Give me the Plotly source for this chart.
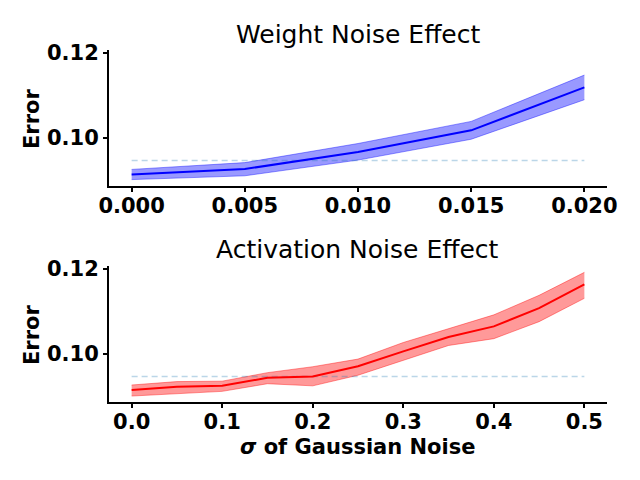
import plotly.graph_objects as go

# weight noise panel
w_sigma = [0.0, 0.005, 0.010, 0.015, 0.020]
w_mean = [0.0913, 0.0926, 0.0966, 0.1017, 0.1118]
w_upper = [0.0925, 0.0941, 0.0986, 0.1038, 0.1147]
w_lower = [0.0901, 0.0910, 0.0947, 0.0996, 0.1089]

# activation noise panel
a_sigma = [0.0, 0.05, 0.10, 0.15, 0.20, 0.25, 0.30, 0.35, 0.40, 0.45, 0.50]
a_mean = [0.0914, 0.0922, 0.0924, 0.0943, 0.0946, 0.0970, 0.1005, 0.1039, 0.1064, 0.1107, 0.1163]
a_upper = [0.0926, 0.0934, 0.0935, 0.0955, 0.0969, 0.0987, 0.1026, 0.1058, 0.1091, 0.1137, 0.1191]
a_lower = [0.0900, 0.0905, 0.0911, 0.0929, 0.0924, 0.0949, 0.0984, 0.1019, 0.1035, 0.1075, 0.1130]

baseline = 0.0946

font_main = 'DejaVu Sans'
y_range = [0.0886, 0.1206]

# page body adds an 8px offset, so the figure is 632x472
W, H = 632, 472

fig = go.Figure()


def add_panel(xs, mean, upper, lower, color, fill, xa, ya):
    fig.add_trace(go.Scatter(x=xs, y=upper, mode='lines', line=dict(color=fill, width=1),
                             xaxis=xa, yaxis=ya, showlegend=False, hoverinfo='skip'))
    fig.add_trace(go.Scatter(x=xs, y=lower, mode='lines', line=dict(color=fill, width=1),
                             fill='tonexty', fillcolor=fill,
                             xaxis=xa, yaxis=ya, showlegend=False, hoverinfo='skip'))
    fig.add_trace(go.Scatter(x=[xs[0], xs[-1]], y=[baseline, baseline], mode='lines',
                             line=dict(color='rgba(31,119,180,0.3)', width=1.5, dash='6px,4px'),
                             xaxis=xa, yaxis=ya, showlegend=False))
    fig.add_trace(go.Scatter(x=xs, y=mean, mode='lines', line=dict(color=color, width=2),
                             xaxis=xa, yaxis=ya, showlegend=False))


add_panel(w_sigma, w_mean, w_upper, w_lower, 'blue', 'rgba(0,0,255,0.4)', 'x', 'y')
add_panel(a_sigma, a_mean, a_upper, a_lower, 'red', 'rgba(255,0,0,0.4)', 'x2', 'y2')

axis_style = dict(showline=True, linecolor='black', linewidth=2, ticks='outside',
                  ticklen=4, tickwidth=2, tickcolor='black', showgrid=False, zeroline=False,
                  automargin=False,
                  tickfont=dict(family=font_main, size=21, color='black', weight='bold'))

x_dom = [101 / W, 599 / W]

fig.update_layout(
    width=W, height=H,
    margin=dict(l=0, r=0, t=0, b=0),
    plot_bgcolor='white', paper_bgcolor='white',
    font=dict(family=font_main, color='black'),
    xaxis=dict(domain=x_dom, anchor='y', range=[-0.001, 0.021], ticklabelstandoff=-4,
               tickvals=[0.0, 0.005, 0.010, 0.015, 0.020], tickformat='.3f', **axis_style),
    yaxis=dict(domain=[1 - 178 / H, 1 - 42 / H], anchor='x', range=y_range,
               tickvals=[0.10, 0.12], tickformat='.2f', **axis_style),
    xaxis2=dict(domain=x_dom, anchor='y2', range=[-0.025, 0.525], ticklabelstandoff=-4,
                tickvals=[0.0, 0.1, 0.2, 0.3, 0.4, 0.5], tickformat='.1f', **axis_style),
    yaxis2=dict(domain=[1 - 394 / H, 1 - 258 / H], anchor='x2', range=y_range,
                tickvals=[0.10, 0.12], tickformat='.2f', **axis_style),
)


def label(text, x, y, size, angle=0):
    fig.add_annotation(text=text, x=x / W, y=1 - y / H, xref='paper', yref='paper',
                       xanchor='center', yanchor='middle', showarrow=False, textangle=angle,
                       font=dict(family=font_main, size=size, color='black'))


# panel titles
label('Weight Noise Effect', 350, 27, 25)
label('Activation Noise Effect', 350, 241, 25)

# axis labels
label('<b>Error</b>', 24, 111, 21, -90)
label('<b>Error</b>', 24, 327, 21, -90)
label('<b><i>σ</i> of Gaussian Noise</b>', 350, 439, 21)

fig.write_html("out.html")
